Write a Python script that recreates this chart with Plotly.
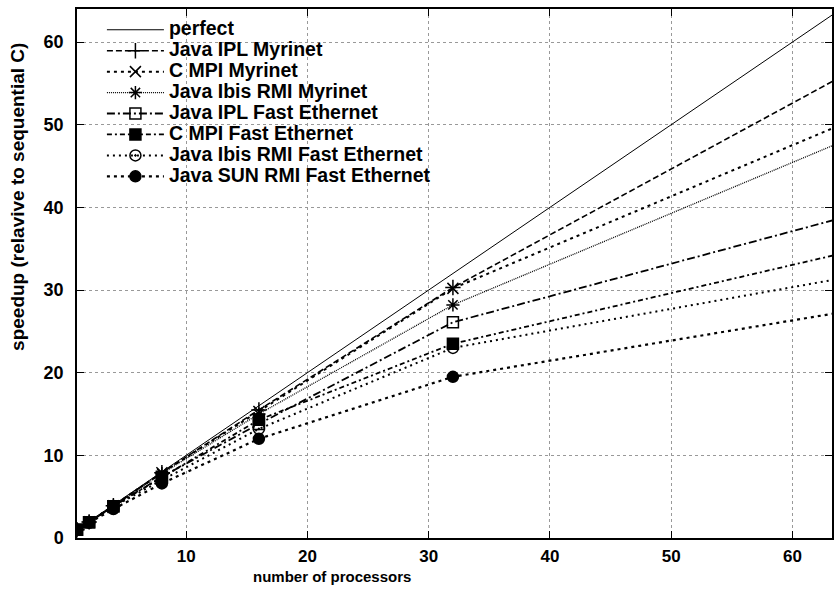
import plotly.graph_objects as go

procs = [1, 2, 4, 8, 16, 32, 64]
perfect = [1, 2, 4, 8, 16, 32, 64]
java_ipl_myrinet = [1.0, 1.95, 3.9, 7.9, 15.5, 30.3, 55.8]
c_mpi_myrinet = [1.0, 1.95, 3.9, 7.9, 15.3, 30.2, 50.0]
java_ibis_rmi_myrinet = [1.0, 1.95, 3.9, 7.8, 15.0, 28.2, 47.9]
java_ipl_fe = [1.0, 1.9, 3.85, 7.4, 13.8, 26.1, 38.7]
c_mpi_fe = [1.0, 1.9, 3.85, 7.3, 14.3, 23.5, 34.4]
java_ibis_rmi_fe = [1.0, 1.9, 3.8, 7.0, 13.2, 23.0, 31.4]
java_sun_rmi_fe = [1.0, 1.85, 3.5, 6.6, 12.0, 19.5, 27.3]

names = ["perfect", "Java IPL Myrinet", "C MPI Myrinet", "Java Ibis RMI Myrinet",
         "Java IPL Fast Ethernet", "C MPI Fast Ethernet",
         "Java Ibis RMI Fast Ethernet", "Java SUN RMI Fast Ethernet"]
series = [perfect, java_ipl_myrinet, c_mpi_myrinet, java_ibis_rmi_myrinet,
          java_ipl_fe, c_mpi_fe, java_ibis_rmi_fe, java_sun_rmi_fe]
dashes = ["solid", "6px,3px", "3px,4px", "1px,1px",
          "8px,3px,2px,3px", "5px,3px,2px,3px", "2px,4px", "3px,4px"]
widths = [1, 1.6, 2, 1.3, 1.8, 1.8, 2, 2.2]
symbols = [None, "cross-thin-open", "x-thin-open", "asterisk-open",
           "square-open", "square", "circle-open-dot", "circle"]

fig = go.Figure()
for nm, ys, d, w, s in zip(names, series, dashes, widths, symbols):
    label = '<span style="font-size:19.5px">' + nm + '</span>'
    if s is None:
        fig.add_trace(go.Scatter(x=procs, y=ys, name=label, mode="lines",
                                 line=dict(color="black", width=w, dash=d)))
    else:
        fig.add_trace(go.Scatter(x=procs, y=ys, name=label, mode="lines+markers",
                                 line=dict(color="black", width=w, dash=d),
                                 marker=dict(symbol=s, size=11, color="black",
                                             line=dict(color="black", width=1.5))))

fig.add_shape(type="rect", xref="paper", yref="paper", x0=0, x1=0.532, y0=0.658, y1=1,
              fillcolor="white", line=dict(width=0), layer="between")

fig.add_annotation(text="speedup (relavive to sequential C)", xref="paper", yref="paper",
                   x=-0.078, y=0.645, textangle=-90, showarrow=False,
                   xanchor="center", yanchor="middle",
                   font=dict(family="Liberation Sans", size=19, color="black", weight="bold"))
fig.add_annotation(text="number of processors", xref="paper", yref="paper",
                   x=0.338, y=-0.072, showarrow=False, xanchor="center", yanchor="middle",
                   font=dict(family="Liberation Sans", size=15,
                             color="black", weight="bold"))

fig.update_layout(
    width=834, height=598,
    margin=dict(l=77, r=0, t=9, b=60),
    plot_bgcolor="white", paper_bgcolor="white",
    showlegend=True,
    legend=dict(x=0.033, y=0.99, xanchor="left", yanchor="top",
                bgcolor="rgba(0,0,0,0)", itemwidth=57,
                font=dict(family="Liberation Sans", size=13.8, color="black", weight="bold")),
    font=dict(family="Liberation Sans", color="black"),
)
fig.update_xaxes(range=[1, 63.26], tickvals=[10, 20, 30, 40, 50, 60],
                 showline=True, linecolor="black", linewidth=1.5, mirror="ticks",
                 ticks="inside", ticklen=7, tickcolor="black", tickwidth=1.2,
                 showgrid=True, gridcolor="#999999", griddash="dot", gridwidth=1,
                 zeroline=False, ticklabelstandoff=2,
                 tickfont=dict(family="Liberation Sans", size=17,
                               color="black", weight="bold"))
fig.update_yaxes(range=[0, 64], tickvals=[0, 10, 20, 30, 40, 50, 60],
                 showline=True, linecolor="black", linewidth=1.5, mirror="ticks",
                 ticks="inside", ticklen=7, tickcolor="black", tickwidth=1.2,
                 showgrid=True, gridcolor="#999999", griddash="dot", gridwidth=1,
                 zeroline=False, ticklabelstandoff=8,
                 tickfont=dict(family="Liberation Sans", size=18, color="black", weight="bold"))

fig.write_html("out.html", config={"displayModeBar": False},
               post_script="document.body.style.margin='0';document.body.style.overflow='hidden';")
